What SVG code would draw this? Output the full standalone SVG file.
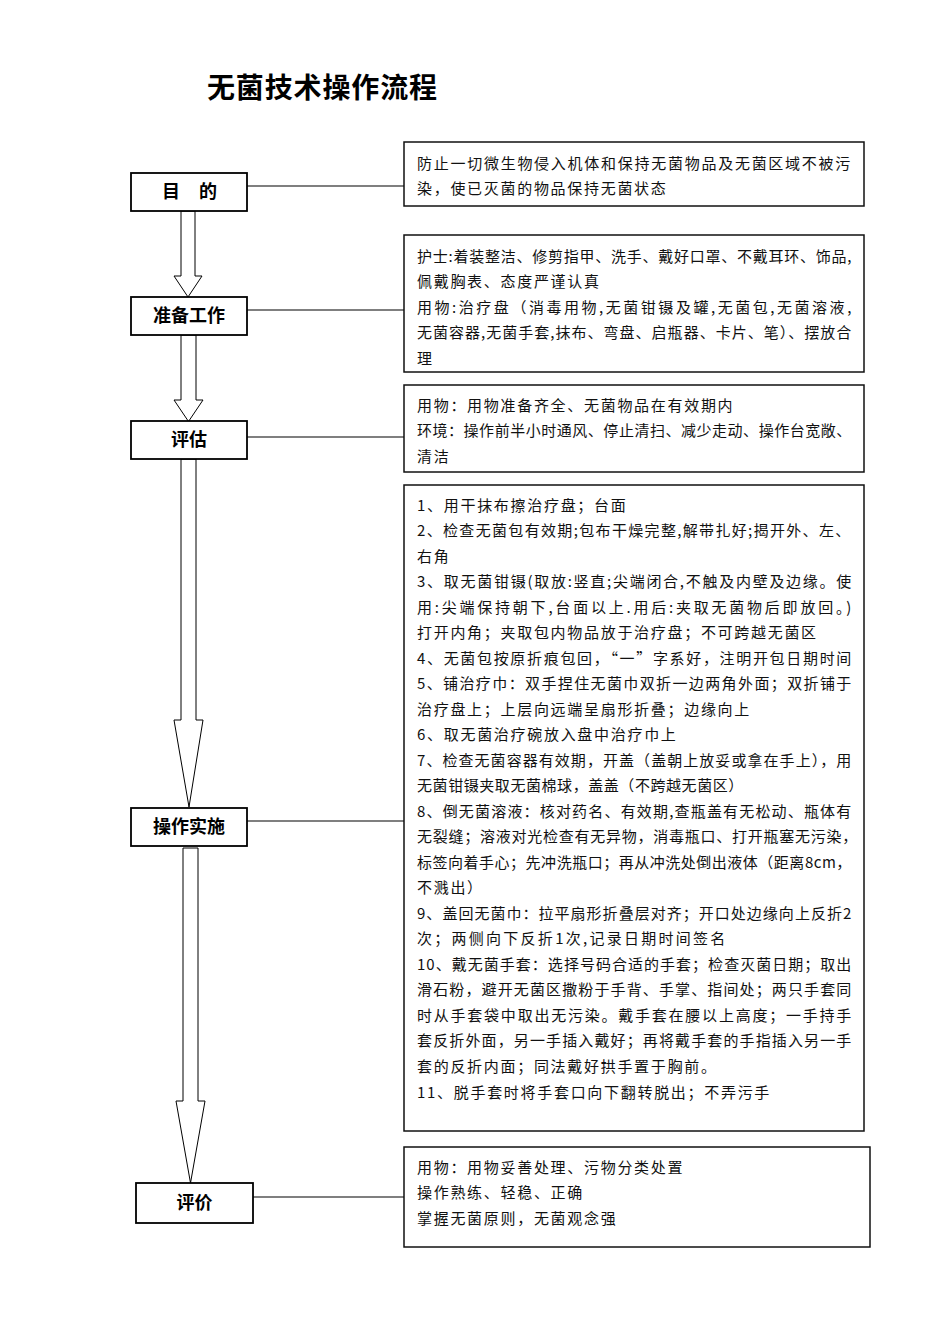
<svg xmlns="http://www.w3.org/2000/svg" width="950" height="1344" viewBox="0 0 950 1344">
<style>
.bg{fill:#fff}
.node{fill:#fff;stroke:#000;stroke-width:1.8}
.tbox{fill:#fff;stroke:#111;stroke-width:1.5}
.lbl{font-family:"Noto Sans CJK SC","Noto Sans CJK JP",sans-serif;font-size:18px;font-weight:bold;fill:#000;text-anchor:middle}
.txt{font-family:"Noto Sans CJK SC","Noto Sans CJK JP",sans-serif;font-size:15px;fill:#111;letter-spacing:1.7px}
.title{font-family:"Noto Sans CJK SC","Noto Sans CJK JP",sans-serif;font-size:28px;font-weight:bold;fill:#000}
.conn{stroke:#000;stroke-width:1.2;fill:none}
.arrow{fill:#fff;stroke:#000;stroke-width:1}
</style>
<rect class="bg" x="0" y="0" width="950" height="1344"/>
<text class="title" x="207" y="98" textLength="230">无菌技术操作流程</text>

<g id="connectors">
<line class="conn" x1="247" y1="186" x2="404" y2="186"/>
<line class="conn" x1="247" y1="310" x2="404" y2="310"/>
<line class="conn" x1="247" y1="437" x2="404" y2="437"/>
<line class="conn" x1="247" y1="821" x2="404" y2="821"/>
<line class="conn" x1="253" y1="1197" x2="404" y2="1197"/>
<polygon class="arrow" points="181,211 195,211 195,276 202,276 188,297 174,276 181,276"/>
<polygon class="arrow" points="181,335 196,335 196,400 203,400 188.5,421.5 174,400 181,400"/>
<polygon class="arrow" points="181,459 196,459 196,720 203,720 189,807 174,720 181,720"/>
<polygon class="arrow" points="183,848 198,848 198,1101 205,1101 190.5,1183 176,1101 183,1101"/>
</g>

<g id="node-mudi">
<rect class="node" x="131" y="173" width="116" height="38"/>
<text class="lbl" y="198"><tspan x="171">目</tspan><tspan x="208">的</tspan></text>
</g>
<g id="node-zhunbei">
<rect class="node" x="131" y="297" width="116" height="38"/>
<text class="lbl" x="189" y="322">准备工作</text>
</g>
<g id="node-pinggu">
<rect class="node" x="131" y="421" width="116" height="38"/>
<text class="lbl" x="189" y="446">评估</text>
</g>
<g id="node-shishi">
<rect class="node" x="131" y="808" width="116" height="38"/>
<text class="lbl" x="189" y="833">操作实施</text>
</g>
<g id="node-pingjia">
<rect class="node" x="136" y="1183" width="117" height="40"/>
<text class="lbl" x="194.5" y="1209">评价</text>
</g>

<g id="box-mudi">
<rect class="tbox" x="404" y="142" width="460" height="64"/>
<text class="txt" x="417" y="168.5" textLength="435">防止一切微生物侵入机体和保持无菌物品及无菌区域不被污</text>
<text class="txt" x="417" y="193.5">染，使已灭菌的物品保持无菌状态</text>
</g>

<g id="box-zhunbei">
<rect class="tbox" x="404" y="235" width="460" height="137"/>
<text class="txt" x="417" y="261.5" textLength="436">护士:着装整洁、修剪指甲、洗手、戴好口罩、不戴耳环、饰品,</text>
<text class="txt" x="417" y="287">佩戴胸表、态度严谨认真</text>
<text class="txt" x="417" y="312.5" textLength="436">用物:治疗盘（消毒用物,无菌钳镊及罐,无菌包,无菌溶液,</text>
<text class="txt" x="417" y="338" textLength="436">无菌容器,无菌手套,抹布、弯盘、启瓶器、卡片、笔）、摆放合</text>
<text class="txt" x="417" y="363.5">理</text>
</g>

<g id="box-pinggu">
<rect class="tbox" x="404" y="385" width="460" height="87"/>
<text class="txt" x="417" y="410.5">用物：用物准备齐全、无菌物品在有效期内</text>
<text class="txt" x="417" y="436" textLength="436">环境：操作前半小时通风、停止清扫、减少走动、操作台宽敞、</text>
<text class="txt" x="417" y="461.5">清洁</text>
</g>

<g id="box-shishi">
<rect class="tbox" x="404" y="485" width="460" height="646"/>
<text class="txt" x="417" y="510.5">1、用干抹布擦治疗盘；台面</text>
<text class="txt" x="417" y="536" textLength="435">2、检查无菌包有效期;包布干燥完整,解带扎好;揭开外、左、</text>
<text class="txt" x="417" y="561.5">右角</text>
<text class="txt" x="417" y="587" textLength="436">3、取无菌钳镊(取放:竖直;尖端闭合,不触及内壁及边缘。使</text>
<text class="txt" x="417" y="612.6" textLength="436">用:尖端保持朝下,台面以上.用后:夹取无菌物后即放回。)</text>
<text class="txt" x="417" y="638.1">打开内角；夹取包内物品放于治疗盘；不可跨越无菌区</text>
<text class="txt" x="417" y="663.6" textLength="436">4、无菌包按原折痕包回，“一”字系好，注明开包日期时间</text>
<text class="txt" x="417" y="689.1" textLength="436">5、铺治疗巾：双手捏住无菌巾双折一边两角外面；双折铺于</text>
<text class="txt" x="417" y="714.7">治疗盘上；上层向远端呈扇形折叠；边缘向上</text>
<text class="txt" x="417" y="740.2">6、取无菌治疗碗放入盘中治疗巾上</text>
<text class="txt" x="417" y="765.7" textLength="436">7、检查无菌容器有效期，开盖（盖朝上放妥或拿在手上），用</text>
<text class="txt" x="417" y="791.2" textLength="328">无菌钳镊夹取无菌棉球，盖盖（不跨越无菌区）</text>
<text class="txt" x="417" y="816.7" textLength="436">8、倒无菌溶液：核对药名、有效期,查瓶盖有无松动、瓶体有</text>
<text class="txt" x="417" y="842.3" textLength="442">无裂缝；溶液对光检查有无异物，消毒瓶口、打开瓶塞无污染，</text>
<text class="txt" x="417" y="867.8" textLength="436">标签向着手心；先冲洗瓶口；再从冲洗处倒出液体（距离8cm，</text>
<text class="txt" x="417" y="893.3">不溅出）</text>
<text class="txt" x="417" y="918.8" textLength="436">9、盖回无菌巾：拉平扇形折叠层对齐；开口处边缘向上反折2</text>
<text class="txt" x="417" y="944.4" textLength="310">次；两侧向下反折1次,记录日期时间签名</text>
<text class="txt" x="417" y="969.9" textLength="436">10、戴无菌手套：选择号码合适的手套；检查灭菌日期；取出</text>
<text class="txt" x="417" y="995.4" textLength="436">滑石粉，避开无菌区撒粉于手背、手掌、指间处；两只手套同</text>
<text class="txt" x="417" y="1020.9" textLength="436">时从手套袋中取出无污染。戴手套在腰以上高度；一手持手</text>
<text class="txt" x="417" y="1046.4" textLength="436">套反折外面，另一手插入戴好；再将戴手套的手指插入另一手</text>
<text class="txt" x="417" y="1072">套的反折内面；同法戴好拱手置于胸前。</text>
<text class="txt" x="417" y="1097.5">11、脱手套时将手套口向下翻转脱出；不弄污手</text>
</g>

<g id="box-pingjia">
<rect class="tbox" x="404" y="1147" width="466" height="100"/>
<text class="txt" x="417" y="1172.5">用物：用物妥善处理、污物分类处置</text>
<text class="txt" x="417" y="1198">操作熟练、轻稳、正确</text>
<text class="txt" x="417" y="1223.5">掌握无菌原则，无菌观念强</text>
</g>
</svg>
